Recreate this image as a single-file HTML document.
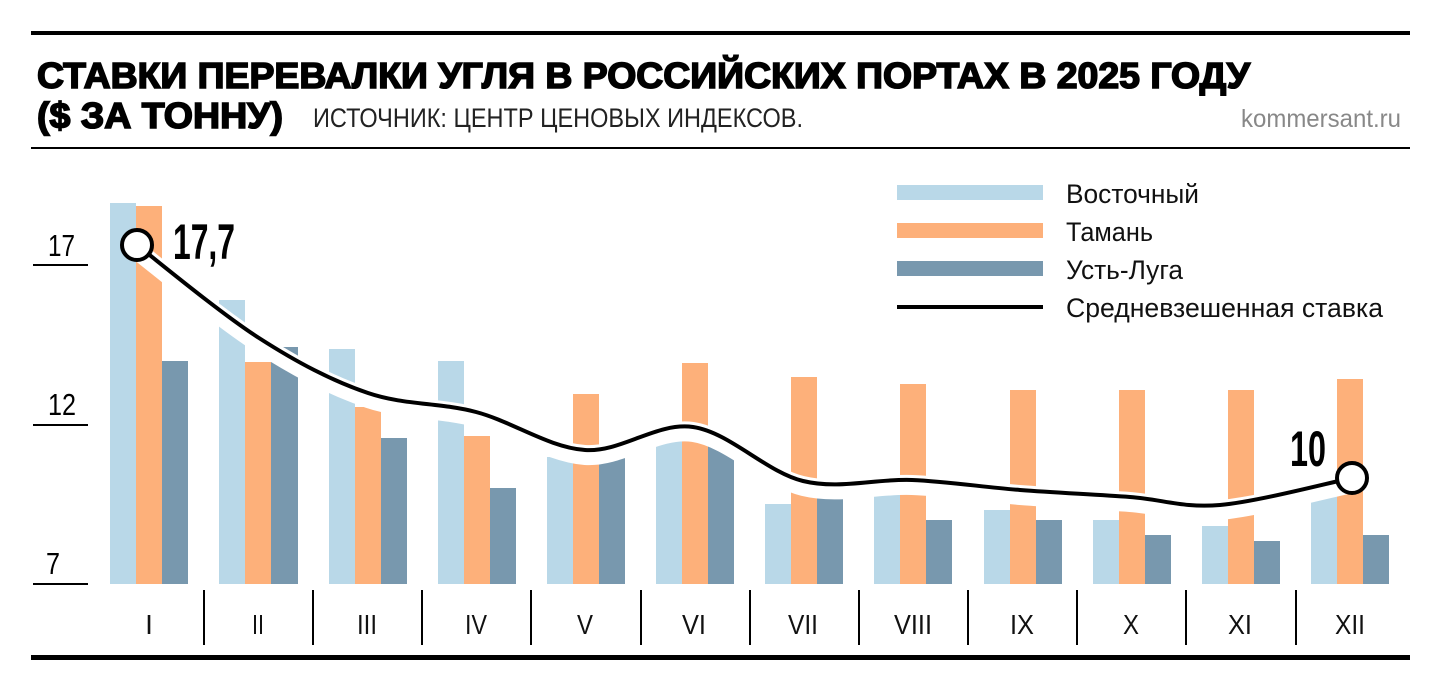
<!DOCTYPE html>
<html><head><meta charset="utf-8"><style>
html,body{margin:0;padding:0;background:#fff;}
svg{display:block;font-family:"Liberation Sans",sans-serif;}
</style></head><body>
<svg width="1440" height="689" viewBox="0 0 1440 689" xmlns="http://www.w3.org/2000/svg">
<rect x="31" y="31" width="1379" height="4" fill="#000"/>
<rect x="31" y="147" width="1379" height="2" fill="#000"/>
<rect x="31" y="655" width="1379" height="5" fill="#000"/>
<text x="37" y="88" font-size="36" font-weight="bold" textLength="1213" lengthAdjust="spacingAndGlyphs" style="stroke:#000;stroke-width:1.6">СТАВКИ ПЕРЕВАЛКИ УГЛЯ В РОССИЙСКИХ ПОРТАХ В 2025 ГОДУ</text>
<text x="37" y="128" font-size="36" font-weight="bold" textLength="246" lengthAdjust="spacingAndGlyphs" style="stroke:#000;stroke-width:1.6">($ ЗА ТОННУ)</text>
<text x="313" y="127" font-size="27" textLength="490" lengthAdjust="spacingAndGlyphs" fill="#222">ИСТОЧНИК: ЦЕНТР ЦЕНОВЫХ ИНДЕКСОВ.</text>
<text x="1401" y="127" font-size="25" text-anchor="end" fill="#888" textLength="160" lengthAdjust="spacingAndGlyphs">kommersant.ru</text>
<g fill="#000">
<rect x="33" y="264" width="55" height="2"/><rect x="33" y="424" width="55" height="2"/><rect x="33" y="583" width="55" height="2"/>
</g>
<g font-size="31" fill="#000">
<text x="48" y="256" textLength="27" lengthAdjust="spacingAndGlyphs">17</text>
<text x="48" y="415" textLength="28" lengthAdjust="spacingAndGlyphs">12</text>
<text x="46" y="574" textLength="14" lengthAdjust="spacingAndGlyphs">7</text>
</g>
<g id="bars">
<rect x="110" y="203" width="26" height="381" fill="#b9d8e8"/><rect x="136" y="206" width="26" height="378" fill="#fdb07a"/><rect x="162" y="361" width="26" height="223" fill="#7898ae"/>
<rect x="219" y="300" width="26" height="284" fill="#b9d8e8"/><rect x="245" y="362" width="26" height="222" fill="#fdb07a"/><rect x="271" y="347" width="27" height="237" fill="#7898ae"/>
<rect x="329" y="349" width="26" height="235" fill="#b9d8e8"/><rect x="355" y="407" width="26" height="177" fill="#fdb07a"/><rect x="381" y="438" width="26" height="146" fill="#7898ae"/>
<rect x="438" y="361" width="26" height="223" fill="#b9d8e8"/><rect x="464" y="436" width="26" height="148" fill="#fdb07a"/><rect x="490" y="488" width="26" height="96" fill="#7898ae"/>
<rect x="547" y="457" width="26" height="127" fill="#b9d8e8"/><rect x="573" y="394" width="26" height="190" fill="#fdb07a"/><rect x="599" y="457" width="26" height="127" fill="#7898ae"/>
<rect x="656" y="436" width="26" height="148" fill="#b9d8e8"/><rect x="682" y="363" width="26" height="221" fill="#fdb07a"/><rect x="708" y="442" width="26" height="142" fill="#7898ae"/>
<rect x="765" y="504" width="26" height="80" fill="#b9d8e8"/><rect x="791" y="377" width="26" height="207" fill="#fdb07a"/><rect x="817" y="491" width="26" height="93" fill="#7898ae"/>
<rect x="874" y="489" width="26" height="95" fill="#b9d8e8"/><rect x="900" y="384" width="26" height="200" fill="#fdb07a"/><rect x="926" y="520" width="26" height="64" fill="#7898ae"/>
<rect x="984" y="510" width="26" height="74" fill="#b9d8e8"/><rect x="1010" y="390" width="26" height="194" fill="#fdb07a"/><rect x="1036" y="520" width="26" height="64" fill="#7898ae"/>
<rect x="1093" y="520" width="26" height="64" fill="#b9d8e8"/><rect x="1119" y="390" width="26" height="194" fill="#fdb07a"/><rect x="1145" y="535" width="26" height="49" fill="#7898ae"/>
<rect x="1202" y="526" width="26" height="58" fill="#b9d8e8"/><rect x="1228" y="390" width="26" height="194" fill="#fdb07a"/><rect x="1254" y="541" width="26" height="43" fill="#7898ae"/>
<rect x="1311" y="496" width="26" height="88" fill="#b9d8e8"/><rect x="1337" y="379" width="26" height="205" fill="#fdb07a"/><rect x="1363" y="535" width="26" height="49" fill="#7898ae"/>
</g>
<g fill="#000">
<rect x="203" y="590" width="2" height="55"/><rect x="312" y="590" width="2" height="55"/><rect x="421" y="590" width="2" height="55"/><rect x="530" y="590" width="2" height="55"/><rect x="640" y="590" width="2" height="55"/><rect x="749" y="590" width="2" height="55"/><rect x="858" y="590" width="2" height="55"/><rect x="967" y="590" width="2" height="55"/><rect x="1076" y="590" width="2" height="55"/><rect x="1185" y="590" width="2" height="55"/><rect x="1295" y="590" width="2" height="55"/>
</g>
<g font-size="28" fill="#111" text-anchor="middle">
<text x="149" y="634">I</text><text x="258" y="634" textLength="12" lengthAdjust="spacingAndGlyphs">II</text><text x="367" y="634" textLength="20" lengthAdjust="spacingAndGlyphs">III</text><text x="476" y="634" textLength="22" lengthAdjust="spacingAndGlyphs">IV</text><text x="585" y="634" textLength="16" lengthAdjust="spacingAndGlyphs">V</text><text x="694" y="634" textLength="24" lengthAdjust="spacingAndGlyphs">VI</text><text x="803" y="634" textLength="30" lengthAdjust="spacingAndGlyphs">VII</text><text x="913" y="634" textLength="38" lengthAdjust="spacingAndGlyphs">VIII</text><text x="1022" y="634" textLength="24" lengthAdjust="spacingAndGlyphs">IX</text><text x="1131" y="634" textLength="16" lengthAdjust="spacingAndGlyphs">X</text><text x="1240" y="634" textLength="24" lengthAdjust="spacingAndGlyphs">XI</text><text x="1350" y="634" textLength="30" lengthAdjust="spacingAndGlyphs">XII</text>
</g>
<path d="M137,245 C157,260.5 220.5,313.3 259,338 C297.5,362.7 331.8,380.7 368,393 C404.2,405.3 439.8,402.5 476,412 C512.2,421.5 548.8,447.5 585,450 C621.2,452.5 656.7,421.8 693,427 C729.3,432.2 766.5,472.2 803,481 C839.5,489.8 875.8,478.5 912,480 C948.2,481.5 983.7,487.2 1020,490 C1056.3,492.8 1096.7,494.5 1130,497 C1163.3,499.5 1183,508.2 1220,505 C1257,501.8 1330,482.5 1352,478" fill="none" stroke="#fff" stroke-width="16" transform="translate(0,7)"/>
<path d="M137,245 C157,260.5 220.5,313.3 259,338 C297.5,362.7 331.8,380.7 368,393 C404.2,405.3 439.8,402.5 476,412 C512.2,421.5 548.8,447.5 585,450 C621.2,452.5 656.7,421.8 693,427 C729.3,432.2 766.5,472.2 803,481 C839.5,489.8 875.8,478.5 912,480 C948.2,481.5 983.7,487.2 1020,490 C1056.3,492.8 1096.7,494.5 1130,497 C1163.3,499.5 1183,508.2 1220,505 C1257,501.8 1330,482.5 1352,478" fill="none" stroke="#fff" stroke-width="10"/>
<path d="M137,245 C157,260.5 220.5,313.3 259,338 C297.5,362.7 331.8,380.7 368,393 C404.2,405.3 439.8,402.5 476,412 C512.2,421.5 548.8,447.5 585,450 C621.2,452.5 656.7,421.8 693,427 C729.3,432.2 766.5,472.2 803,481 C839.5,489.8 875.8,478.5 912,480 C948.2,481.5 983.7,487.2 1020,490 C1056.3,492.8 1096.7,494.5 1130,497 C1163.3,499.5 1183,508.2 1220,505 C1257,501.8 1330,482.5 1352,478" fill="none" stroke="#000" stroke-width="4"/>
<circle cx="137" cy="245" r="15" fill="#fff" stroke="#000" stroke-width="4"/>
<circle cx="1352" cy="478" r="15" fill="#fff" stroke="#000" stroke-width="4"/>
<text x="173" y="259" font-size="50" font-weight="bold" textLength="62" lengthAdjust="spacingAndGlyphs">17,7</text>
<text x="1290" y="466" font-size="50" font-weight="bold" textLength="36" lengthAdjust="spacingAndGlyphs">10</text>
<rect x="897" y="185" width="146" height="15" fill="#b9d8e8"/>
<rect x="897" y="223" width="146" height="15" fill="#fdb07a"/>
<rect x="897" y="261" width="146" height="15" fill="#7898ae"/>
<rect x="897" y="305" width="146" height="4" fill="#000"/>
<g font-size="27" fill="#111">
<text x="1066" y="203" textLength="133" lengthAdjust="spacingAndGlyphs">Восточный</text>
<text x="1066" y="241" textLength="87" lengthAdjust="spacingAndGlyphs">Тамань</text>
<text x="1066" y="279" textLength="117" lengthAdjust="spacingAndGlyphs">Усть-Луга</text>
<text x="1066" y="317" textLength="317" lengthAdjust="spacingAndGlyphs">Средневзешенная ставка</text>
</g>
</svg>
</body></html>
